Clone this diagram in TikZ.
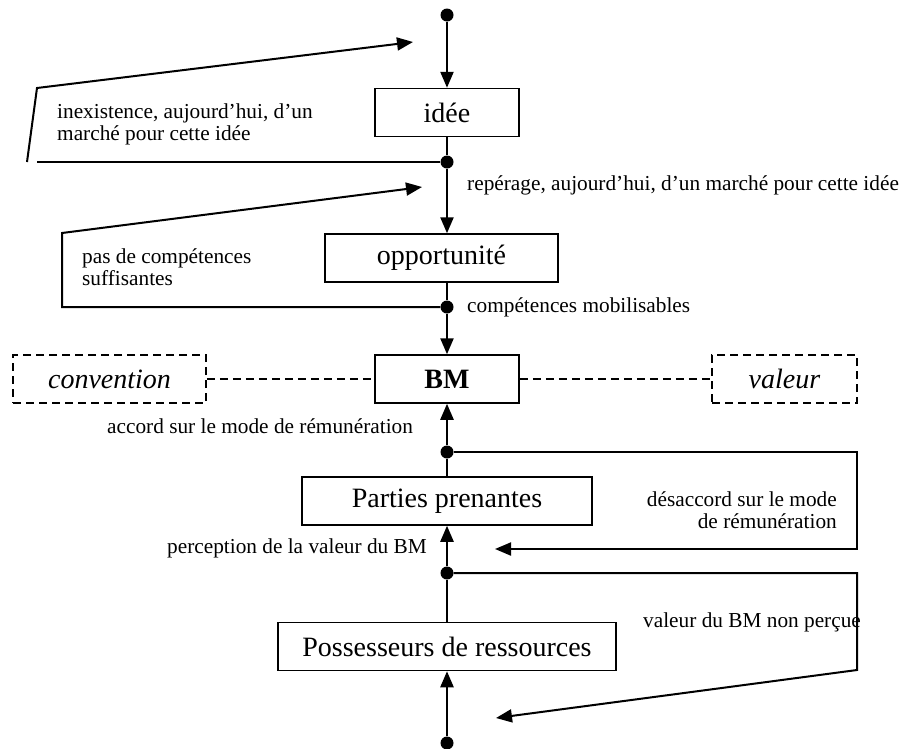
\documentclass[tikz,border=0pt]{standalone}
\usepackage{fontspec}
\setmainfont{Liberation Serif}
\usetikzlibrary{arrows.meta}

\begin{document}
\begin{tikzpicture}[x=1pt,y=-1pt,box/.style={draw=black,line width=1.5pt,minimum height=48pt,inner sep=0pt,font=\fontsize{28}{30}\selectfont},boxD/.style={box,dash pattern=on 8pt off 5pt},dot/.style={circle,fill=black,inner sep=0pt,minimum size=13pt},lbl/.style={inner sep=0pt,font=\fontsize{21.3}{22}\selectfont},arr/.style={line width=2.4pt,-{Triangle[length=16pt,width=13pt]}},lnk/.style={line width=1.6pt}]
\def\xm{447};
\def\xr{857};

\useasboundingbox (0,0) rectangle (903,748);

% the chain of boxes
\node[box,minimum width=144pt] (idee) at (\xm,112.5) {idée};
\node[box,minimum width=233pt] (opp) at (441.5,258) {opportunité};
\node[box,minimum width=144pt] (bm) at (\xm,379) {\textbf{BM}};
\node[box,minimum width=290pt] (parties) at (\xm,501) {Parties prenantes};
\node[box,minimum width=338pt] (poss) at (\xm,646.5) {Possesseurs de ressources};
\node[boxD,minimum width=193pt] (conv) at (109.5,379) {\textit{convention}};
\node[boxD,minimum width=145pt] (val) at (784.5,379) {\textit{valeur}};

\node[dot] (d1) at (\xm,15) {};
\node[dot] (d2) at (\xm,162) {};
\node[dot] (d3) at (\xm,307) {};
\node[dot] (d4) at (\xm,452) {};
\node[dot] (d5) at (\xm,573) {};
\node[dot] (d6) at (\xm,743) {};

\draw[arr] (d1) -- (idee);
\draw[lnk] (idee) -- (d2);
\draw[arr] (d2) -- (d2 |- opp.north);
\draw[lnk] (d3 |- opp.south) -- (d3);
\draw[arr] (d3) -- (bm);
\draw[arr] (d4) -- (bm);
\draw[lnk] (d4) -- (parties);
\draw[arr] (d5) -- (parties);
\draw[lnk] (poss) -- (d5);
\draw[arr] (d6) -- (poss);

\draw[lnk,dash pattern=on 8pt off 5pt] (conv) -- (bm);
\draw[lnk,dash pattern=on 8pt off 5pt] (bm) -- (val);

% loops
\coordinate (l1a) at (37,162);
\coordinate (l1b) at (27,162);
\coordinate (l1c) at (37,88);
\coordinate (l1t) at (413,42);
\draw[lnk,line width=2pt] (d2) -- (l1a);
\draw[arr,line width=2pt] (l1b) -- (l1c) -- (l1t);

\coordinate (l2a) at (62,307);
\coordinate (l2b) at (62,233);
\coordinate (l2t) at (422,187);
\draw[arr,line width=2pt] (d3) -- (l2a) -- (l2b) -- (l2t);

\coordinate (l3a) at (\xr,452);
\coordinate (l3b) at (\xr,549);
\coordinate (l3t) at (495,549);
\draw[arr,line width=2pt] (d4) -- (l3a) -- (l3b) -- (l3t);

\coordinate (l4a) at (\xr,573);
\coordinate (l4b) at (\xr,670);
\coordinate (l4t) at (496,718);
\draw[arr,line width=2pt] (d5) -- (l4a) -- (l4b) -- (l4t);

% labels
\node[lbl,anchor=west,align=left] (t1) at (57,124) {inexistence, aujourd’hui, d’un\\marché pour cette idée};
\node[lbl,anchor=base west] (t2) at (467,190) {repérage, aujourd’hui, d’un marché pour cette idée};
\node[lbl,anchor=west,align=left] (t3) at (82,267) {pas de compétences\\suffisantes};
\node[lbl,anchor=base west] (t4) at (467,312) {compétences mobilisables};
\node[lbl,anchor=base west] (t5) at (107,433) {accord sur le mode de rémunération};
\node[lbl,anchor=east,align=right] (t6) at (837,510) {désaccord sur le mode\\de rémunération};
\node[lbl,anchor=base east] (t7) at (427,553) {perception de la valeur du BM};
\node[lbl,anchor=base west] (t8) at (643,627) {valeur du BM non perçue};
\end{tikzpicture}
\end{document}
